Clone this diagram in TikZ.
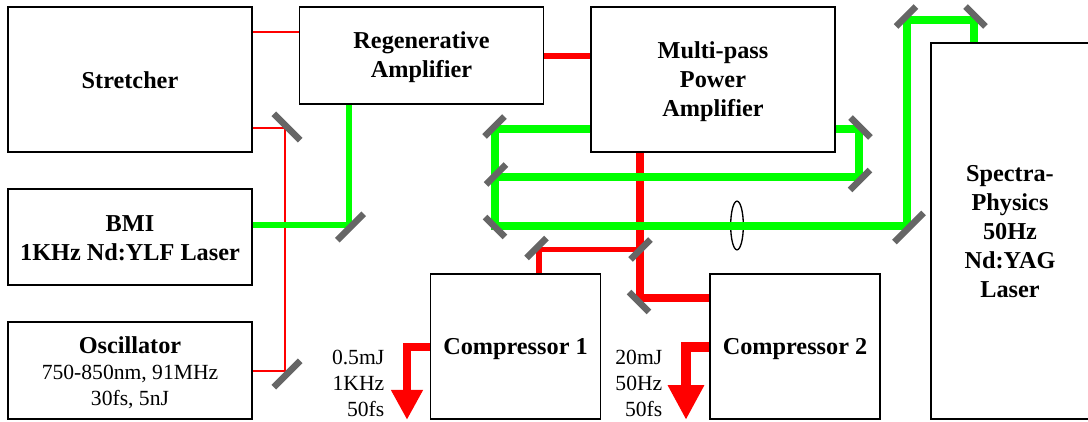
\documentclass[tikz,border=0pt]{standalone}
\usepackage{fontspec}
\setmainfont{Liberation Serif}
\usetikzlibrary{arrows.meta, shapes.geometric}
\newcommand{\topgap}[1]{\rule{0pt}{#1}}

\begin{document}
\begin{tikzpicture}[x = 0.75pt, y = -0.75pt]
\tikzstyle{BoxStyle}=[
shape = rectangle,
draw,
line width = 1.1pt,
inner sep = 0pt,
align = center,
font = \fontsize{18.2}{21.75}\selectfont\bfseries]
\tikzstyle{NoteStyle}=[
inner sep = 0pt,
align = right,
font = \fontsize{16.2}{19.6}\selectfont]
\tikzstyle{MirrorStyle}=[
shape = rectangle,
fill = mirrorgray,
inner sep = 0pt,
minimum height = 5pt,
minimum width = 21pt]
\tikzstyle{redthin}=[draw = red, line width = 1pt]
\tikzstyle{redmid}=[draw = red, line width = 3.8pt]
\tikzstyle{redthick}=[draw = red, line width = 6pt]
\tikzstyle{greenbeam}=[draw = beamgreen, line width = 6pt]
\definecolor{mirrorgray}{RGB}{102,102,102}
\definecolor{beamgreen}{RGB}{0,255,0}
\useasboundingbox (0,0) rectangle (1088,421);
\node[BoxStyle, minimum width = 183pt, minimum height = 109pt] (stretcher) at (130,79.5) {\topgap{13.8pt}Stretcher};
\node[BoxStyle, minimum width = 183pt, minimum height = 72pt] (bmi) at (130,237) {\topgap{14pt}BMI\\1KHz Nd:YLF Laser};
\node[BoxStyle, minimum width = 183pt, minimum height = 73pt, font = \fontsize{18.2}{19.6}\selectfont\bfseries] (oscillator) at (130,370.5) {\topgap{15.5pt}Oscillator\\{\fontsize{16.2}{19.6}\selectfont\mdseries 750-850nm, 91MHz}\\{\fontsize{16.2}{19.6}\selectfont\mdseries 30fs, 5nJ}};
\node[BoxStyle, minimum width = 183pt, minimum height = 73pt] (regen) at (421.5,55.5) {\topgap{15.5pt}Regenerative\\Amplifier};
\node[BoxStyle, minimum width = 183pt, minimum height = 109pt] (multi) at (713,79.5) {\topgap{16pt}Multi-pass\\Power\\Amplifier};
\node[BoxStyle, minimum width = 127.5pt, minimum height = 109pt] (comp1) at (515.5,346.5) {\topgap{16pt}Compressor 1};
\node[BoxStyle, minimum width = 127.5pt, minimum height = 109pt] (comp2) at (795,346.5) {\topgap{16pt}Compressor 2};
\node[BoxStyle, minimum width = 118.5pt, minimum height = 282pt] (spectra) at (1010,231) {\topgap{13.5pt}Spectra-\\Physics\\50Hz\\Nd:YAG\\Laser};
\node[NoteStyle, anchor = east] (note1) at (384.5,383.5) {0.5mJ\\1KHz\\50fs};
\node[NoteStyle, anchor = east] (note2) at (662.5,383.5) {20mJ\\50Hz\\50fs};
\node[draw, shape = ellipse, line width = 1pt, inner sep = 0pt, minimum width = 9.5pt, minimum height = 36.5pt] (lens) at (737,225.5) {};
\coordinate (t0) at (270,32);
\coordinate (t1) at (285,128);
\coordinate (t2) at (285,371);
\coordinate (g1) at (348.7,225);
\coordinate (g2) at (495,128.5);
\coordinate (g3) at (495,225.5);
\coordinate (g4) at (907,225.5);
\coordinate (g5) at (907,19.5);
\coordinate (g6) at (974,19.5);
\coordinate (g7) at (859,128.5);
\coordinate (g8) at (859,177);
\coordinate (g9) at (495,177);
\coordinate (r1) at (640,298);
\coordinate (r2) at (640,249.5);
\coordinate (r3) at (539,249.5);
\coordinate (r4) at (407,346.5);
\coordinate (r5) at (686,346.5);
\draw[redthin] (stretcher.east |- t0) -- (regen.west |- t0);
\draw[redthin] (stretcher.east |- t1) -- (t1) -- (t2) -- (oscillator.east |- t2);
\draw[redthick, line width = 4.5pt] (regen.east) -- (regen.east -| multi.west);
\draw[redthick] (multi.south -| r1) -- (r1) -- (r1 -| comp2.west);
\draw[redmid] (r2) -- (r3) -- (r3 |- comp1.north);
\draw[redthick, -{Triangle[width = 22.5pt, length = 22.5pt]}] (comp1.west) -- (r4) -- (r4 |- comp1.south);
\draw[redthick, line width = 7.5pt, -{Triangle[width = 25.5pt, length = 26pt]}] (comp2.west) -- (r5) -- (r5 |- comp2.south);
\draw[greenbeam, line width = 4.5pt] (bmi.east |- g1) -- (g1) -- (g1 |- regen.south);
\draw[greenbeam] (multi.west |- g2) -- (g2) -- (g3) -- (g4) -- (g5) -- (g6) -- (g6 |- spectra.north);
\draw[greenbeam] (multi.east |- g7) -- (g7) -- (g8) -- (g9);
\node[MirrorStyle, minimum width = 28pt, rotate = -45] (m1) at (287,127) {};
\node[MirrorStyle, minimum width = 28pt, rotate = 45] (m2) at (287,374) {};
\node[MirrorStyle, minimum width = 28pt, rotate = 45] (m3) at (350.5,227) {};
\node[MirrorStyle, rotate = 45] (m4) at (494.5,126.5) {};
\node[MirrorStyle, rotate = 45] (m5) at (496,174.5) {};
\node[MirrorStyle, rotate = -45] (m6) at (495,227) {};
\node[MirrorStyle, rotate = -45] (m7) at (860.5,127.5) {};
\node[MirrorStyle, rotate = 45] (m8) at (860,180) {};
\node[MirrorStyle, minimum width = 31pt, rotate = 45] (m9) at (909,227.5) {};
\node[MirrorStyle, rotate = 45] (m10) at (906,16.5) {};
\node[MirrorStyle, rotate = -45] (m11) at (975.5,16.5) {};
\node[MirrorStyle, rotate = 45] (m12) at (640.5,249.5) {};
\node[MirrorStyle, rotate = -45] (m13) at (639,302) {};
\node[MirrorStyle, rotate = 45] (m14) at (536.5,248) {};
\end{tikzpicture}
\end{document}
